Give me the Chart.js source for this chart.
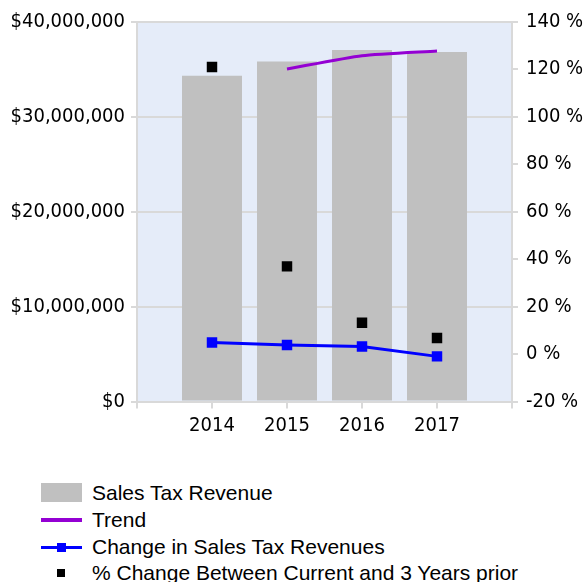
<!DOCTYPE html>
<html>
<head>
<meta charset="utf-8">
<script src="https://cdn.jsdelivr.net/npm/chart.js@4.4.1/dist/chart.umd.min.js"></script>
<style>
  body { margin: 0; background: #fff; }
  #wrap { position: relative; width: 587px; height: 582px; }
  #chart { position: absolute; left: 0; top: 0; }
  .lg { position: absolute; left: 0; height: 27px; width: 587px; font: 21px "Liberation Sans", Arial, sans-serif; color: #000; }
  .lg span.txt { position: absolute; left: 92px; top: 50%; transform: translateY(-50%); white-space: nowrap; }
  .mk { position: absolute; }
</style>
</head>
<body>
<div id="wrap">
  <canvas id="chart" width="587" height="440"></canvas>
  <div id="legend"></div>
</div>
<script>
// categories / values
const years = ['', '2014', '2015', '2016', '2017', ''];
const salesTaxRevenue = [null, 34300000, 35800000, 37000000, 36800000, null];
const trend = [null, null, 35000000, 36400000, 36900000, null];
const changeInRevenue = [null, 4.8, 3.8, 3.2, -1.0, null];
const changeVs3YearsPrior = [null, 120.8, 36.9, 13.2, 6.7, null];

const leftTicks = { min: 0, max: 40000000, step: 10000000 };
const rightTicks = { min: -20, max: 140, step: 20 };

const gridGrey = '#d9d9d9';
const axisFont = { family: '"DejaVu Sans Condensed", "DejaVu Sans", sans-serif', size: 20 };

// light blue plot background
const plotBg = {
    id: 'plotBg',
    beforeDraw(chart) {
        const a = chart.chartArea;
        const ctx = chart.ctx;
        ctx.save();
        ctx.fillStyle = '#e5ecf9';
        ctx.fillRect(a.left, a.top, a.right - a.left, a.bottom - a.top);
        ctx.restore();
    }
};

const ctx = document.getElementById('chart').getContext('2d');
new Chart(ctx, {
    type: 'bar',
    data: {
        labels: years,
        datasets: [
            {
                type: 'line',
                label: '% Change Between Current and 3 Years prior',
                data: changeVs3YearsPrior,
                yAxisID: 'y1',
                showLine: false,
                pointStyle: 'rect',
                pointRadius: 7.4,
                pointBorderWidth: 0,
                pointBackgroundColor: '#000',
                borderColor: '#000',
                order: 0
            },
            {
                type: 'line',
                label: 'Change in Sales Tax Revenues',
                data: changeInRevenue,
                yAxisID: 'y1',
                borderColor: '#0000ff',
                borderWidth: 3,
                pointStyle: 'rect',
                pointRadius: 7.4,
                pointBorderWidth: 0,
                pointBackgroundColor: '#0000ff',
                tension: 0,
                order: 1
            },
            {
                type: 'line',
                label: 'Trend',
                data: trend,
                yAxisID: 'y',
                borderColor: '#9400d3',
                borderWidth: 3,
                pointRadius: 0,
                tension: 0.2,
                order: 2
            },
            {
                type: 'bar',
                label: 'Sales Tax Revenue',
                data: salesTaxRevenue,
                yAxisID: 'y',
                backgroundColor: '#c0c0c0',
                categoryPercentage: 0.8,
                barPercentage: 1,
                order: 10
            }
        ]
    },
    options: {
        responsive: false,
        animation: false,
        devicePixelRatio: 1,
        layout: { padding: { left: 10, top: 21.5, right: 0, bottom: 0 } },
        plugins: {
            legend: { display: false },
            tooltip: { enabled: false }
        },
        scales: {
            x: {
                offset: false,
                grid: { offset: false, drawOnChartArea: false, drawTicks: true, tickLength: 7, color: gridGrey, lineWidth: 2 },
                border: { color: gridGrey, width: 2 },
                ticks: { font: axisFont, color: '#000', padding: 5, autoSkip: false, maxRotation: 0 },
                afterFit(scale) { scale.height = 38.5; }
            },
            y: {
                position: 'left',
                min: leftTicks.min,
                max: leftTicks.max,
                grid: { color: gridGrey, lineWidth: 2, tickLength: 6 },
                border: { color: gridGrey, width: 2 },
                ticks: {
                    stepSize: leftTicks.step,
                    font: axisFont,
                    color: '#000',
                    padding: 6,
                    callback: v => '$' + v.toLocaleString('en-US')
                },
                afterFit(scale) { scale.width = 127; }
            },
            y1: {
                position: 'right',
                min: rightTicks.min,
                max: rightTicks.max,
                grid: { drawOnChartArea: false, color: gridGrey, lineWidth: 2, tickLength: 6 },
                border: { color: gridGrey, width: 2 },
                ticks: {
                    stepSize: rightTicks.step,
                    font: axisFont,
                    color: '#000',
                    padding: 8,
                    callback: v => v + ' %'
                },
                afterFit(scale) { scale.width = 75; }
            }
        }
    },
    plugins: [plotBg]
});

// legend below the chart, one entry per row
const legendItems = [
    { text: 'Sales Tax Revenue', kind: 'box', color: '#c0c0c0' },
    { text: 'Trend', kind: 'line', color: '#9400d3' },
    { text: 'Change in Sales Tax Revenues', kind: 'lineSquare', color: '#0000ff' },
    { text: '% Change Between Current and 3 Years prior', kind: 'square', color: '#000' }
];
const legendRowCenters = [492.5, 519.7, 547, 573];
const legend = document.getElementById('legend');
legendItems.forEach((item, i) => {
    const row = document.createElement('div');
    row.className = 'lg';
    row.style.top = (legendRowCenters[i] - 13.5) + 'px';
    let marker = '';
    if (item.kind === 'box') {
        marker = `<div class="mk" style="left:41px;top:4px;width:41px;height:19px;background:${item.color}"></div>`;
    } else if (item.kind === 'line') {
        marker = `<div class="mk" style="left:41px;top:12px;width:41px;height:3.5px;background:${item.color}"></div>`;
    } else if (item.kind === 'lineSquare') {
        marker = `<div class="mk" style="left:41px;top:12px;width:41px;height:3.5px;background:${item.color}"></div>
                  <div class="mk" style="left:57px;top:9px;width:9px;height:9px;background:${item.color}"></div>`;
    } else {
        marker = `<div class="mk" style="left:57px;top:9.5px;width:8px;height:8px;background:${item.color}"></div>`;
    }
    row.innerHTML = marker + `<span class="txt">${item.text}</span>`;
    legend.appendChild(row);
});
</script>
</body>
</html>
